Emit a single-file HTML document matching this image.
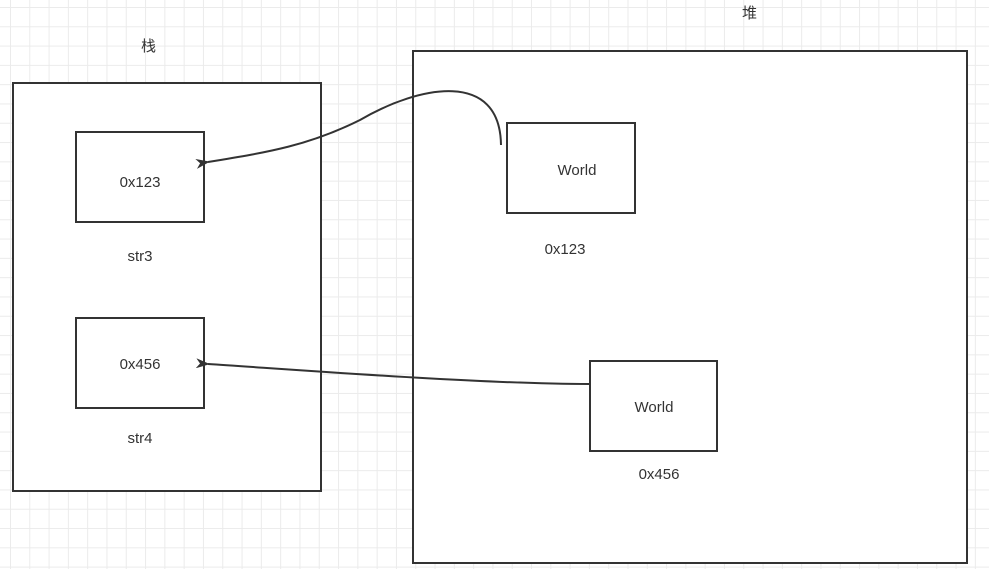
<!DOCTYPE html>
<html><head><meta charset="utf-8"><style>
body{margin:0;width:989px;height:569px;overflow:hidden;background:#fff;
background-image:linear-gradient(#ebebeb 1px,transparent 1px),linear-gradient(90deg,#ebebeb 1px,transparent 1px);
background-size:19.3px 19.3px;background-position:10px 7px;}
svg{position:absolute;left:0;top:0}
text{font-family:"Liberation Sans","Noto Sans CJK SC",sans-serif;font-size:15px;fill:#333}
</style></head><body>
<svg width="989" height="569">
<defs><marker id="a" markerWidth="14" markerHeight="10" refX="2" refY="5" orient="auto" markerUnits="userSpaceOnUse"><path d="M14,0 L0,5 L14,10 L10,5 Z" fill="#333"/></marker></defs>
<g fill="#fff" stroke="#333" stroke-width="2">
<rect x="13" y="83" width="308" height="408"/>
<rect x="413" y="51" width="554" height="512"/>
<rect x="76" y="132" width="128" height="90"/>
<rect x="76" y="318" width="128" height="90"/>
<rect x="507" y="123" width="128" height="90"/>
<rect x="590" y="361" width="127" height="90"/>
</g>
<path d="M501,145 C500,70 420,85 360,120 C310,145 270,152 208,162" fill="none" stroke="#333" stroke-width="2" marker-end="url(#a)"/>
<path d="M590,384 C480,384 300,370 208,364" fill="none" stroke="#333" stroke-width="2" marker-end="url(#a)"/>
<text x="141" y="51">栈</text>
<text x="742" y="18">堆</text>
<text x="140" y="187" text-anchor="middle">0x123</text>
<text x="140" y="261" text-anchor="middle">str3</text>
<text x="140" y="369" text-anchor="middle">0x456</text>
<text x="140" y="443" text-anchor="middle">str4</text>
<text x="577" y="175" text-anchor="middle">World</text>
<text x="565" y="254" text-anchor="middle">0x123</text>
<text x="654" y="412" text-anchor="middle">World</text>
<text x="659" y="479" text-anchor="middle">0x456</text>
</svg>
</body></html>
